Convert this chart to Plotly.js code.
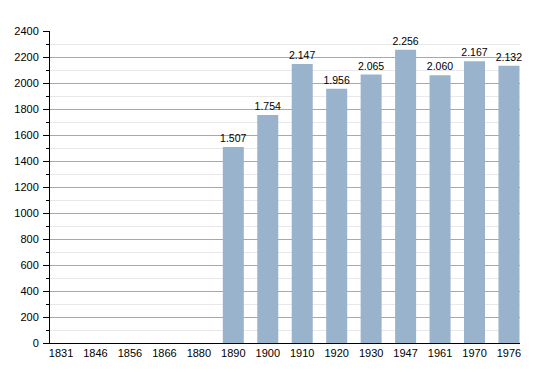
<!DOCTYPE html>
<html><head><meta charset="utf-8">
<script src="https://cdn.plot.ly/plotly-3.0.1.min.js"></script>
<style>html,body{margin:0;padding:0;background:#fff}#c{width:550px;height:373px}</style>
</head><body><div id="c"></div>
<script>
const years = ["1831","1846","1856","1866","1880","1890","1900","1910","1920","1930","1947","1961","1970","1976"];
const population = [null,null,null,null,null,1507,1754,2147,1956,2065,2256,2060,2167,2132];
const labels = ["","","","","","1.507","1.754","2.147","1.956","2.065","2.256","2.060","2.167","2.132"];

Plotly.newPlot('c', [{
  type:'bar', x:years, y:population, text:labels, textposition:'outside',
  cliponaxis:false, constraintext:'none',
  textfont:{family:'Liberation Sans, Arial, sans-serif', size:10.5, color:'#000'},
  marker:{color:'#9ab3cc'}, width:0.61, hoverinfo:'none'
}], {
  width:550, height:373,
  margin:{l:50, r:30, t:31, b:30},
  paper_bgcolor:'#fff', plot_bgcolor:'#fff',
  showlegend:false,
  font:{family:'Liberation Sans, Arial, sans-serif', size:11, color:'#000'},
  xaxis:{type:'category', range:[-0.32,13.32], showline:true, linecolor:'#000', linewidth:1, ticks:'', showgrid:false,
         tickfont:{size:11}, fixedrange:true},
  yaxis:{range:[0,2400], dtick:200, showline:true, linecolor:'#000', linewidth:1,
         ticks:'outside', ticklen:6, tickcolor:'#000', gridcolor:'#a8a8a8', gridwidth:1,
         zeroline:false, tickfont:{size:11}, ticklabelstandoff:2,
         minor:{dtick:100, showgrid:true, gridcolor:'#e8e8e8', ticks:'outside', ticklen:3, tickcolor:'#000'}}
}, {staticPlot:true});
</script></body></html>
